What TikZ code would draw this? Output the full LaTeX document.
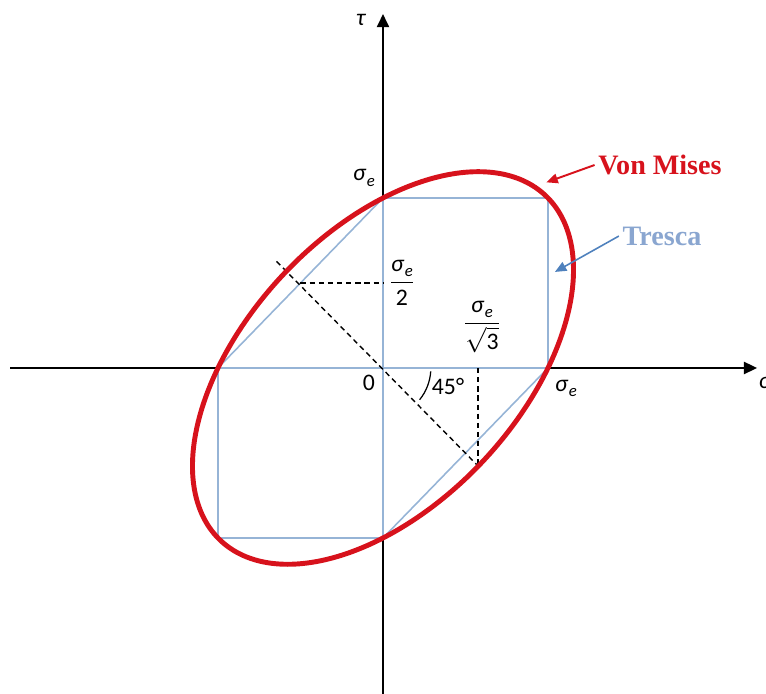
\documentclass[tikz,border=0pt]{standalone}
\usepackage{amsmath}
\usepackage{fontspec}
\setmainfont{Carlito}
\newfontfamily\critfont{Liberation Serif}
\usepackage{tikz}
\usetikzlibrary{arrows.meta}

\definecolor{vmred}{RGB}{215,18,28}
\definecolor{trline}{RGB}{150,180,214}
\definecolor{trtext}{RGB}{138,166,208}
\definecolor{trarrow}{RGB}{79,129,189}
\newcommand{\sige}{\textit{σ}\kern0.2pt\raisebox{-0.45ex}{\fontsize{9.5}{10}\selectfont\textit{e}}}

\begin{document}
\begin{tikzpicture}[x=3.3cm, y=3.4cm, font=\fontsize{13.5}{15}\selectfont,
    axis/.style={line width=0.85pt, -{Triangle[length=7.5pt,width=7pt]}},
    tresca/.style={trline, line width=0.9pt},
    guide/.style={line width=0.8pt, dash pattern=on 3pt off 2.2pt},
    vonmises/.style={vmred, line width=2.8pt},
    crit/.style={font=\critfont\bfseries\fontsize{16}{18}\selectfont, inner sep=2pt}]
    \useasboundingbox (-2.3212,-1.9176) rectangle (2.3212,2.1647);

    % Ejes
    \coordinate (O) at (0,0);
    \coordinate (xl) at (-2.26,0);
    \coordinate (xr) at (2.267,0);
    \coordinate (yb) at (0,-1.95);
    \coordinate (yt) at (0,2.082);
    \draw[axis] (xl) -- (xr);
    \draw[axis] (yb) -- (yt);
    \node[anchor=west] (sig) at (2.24,-0.09) {\textit{σ}};
    \node (tau) at (-0.133,2.047) {\textit{τ}};

    % Tresca
    \coordinate (e) at (1,0);
    \coordinate (ne) at (1,1);
    \coordinate (n) at (0,1);
    \coordinate (w) at (-1,0);
    \coordinate (sw) at (-1,-1);
    \coordinate (s) at (0,-1);
    \draw[tresca] (w) -- (n) -- (ne) -- (e) -- (s) -- (sw) -- cycle;
    \draw[tresca] (w) -- (e) (n) -- (s);

    % Cotas
    \coordinate (dA) at (-0.645,0.627);
    \coordinate (dB) at (0.577,-0.577);
    \coordinate (hA) at (-0.5,0.5);
    \coordinate (hB) at (0,0.5);
    \coordinate (vA) at (0.577,0);
    \draw[guide] (dA) -- (dB);
    \draw[guide] (hA) -- (hB);
    \draw[guide] (vA) -- (dB);
    \draw[line width=0.7pt] ([shift={(-4:0.29)}]O) arc[start angle=-4, end angle=-40, radius=0.29];

    % Von Mises
    \draw[vonmises] plot[domain=0:360, samples=181, smooth, variable=\t]
        ({cos(\t)+0.57735*sin(\t)}, {cos(\t)-0.57735*sin(\t)}) -- cycle;

    % Etiquetas
    \node (lbn) at (-0.115,1.118) {\sige};
    \node (lbe) at (1.109,-0.118) {\sige};
    \node (zero) at (-0.085,-0.088) {0};
    \node (ang) at (0.394,-0.106) {45°};
    \node (half) at (0.115,0.5) {$\dfrac{\mbox{\sige}}{\mbox{2}}$};
    \node (root) at (0.6,0.24) {$\dfrac{\mbox{\sige}}{\sqrt{\mbox{3}}}$};

    \node[crit, vmred] (vm) at (1.679,1.194) {Von Mises};
    \coordinate (vmtip) at (0.99,1.092);
    \draw[vmred, line width=1.1pt, -{Triangle[length=6.5pt,width=5.5pt]}] (vm.west) -- (vmtip);
    \node[crit, trtext] (tr) at (1.691,0.776) {Tresca};
    \coordinate (trtip) at (1.042,0.565);
    \draw[trarrow, line width=0.9pt, -{Triangle[length=6.5pt,width=5.5pt]}] (tr.west) -- (trtip);
\end{tikzpicture}
\end{document}
